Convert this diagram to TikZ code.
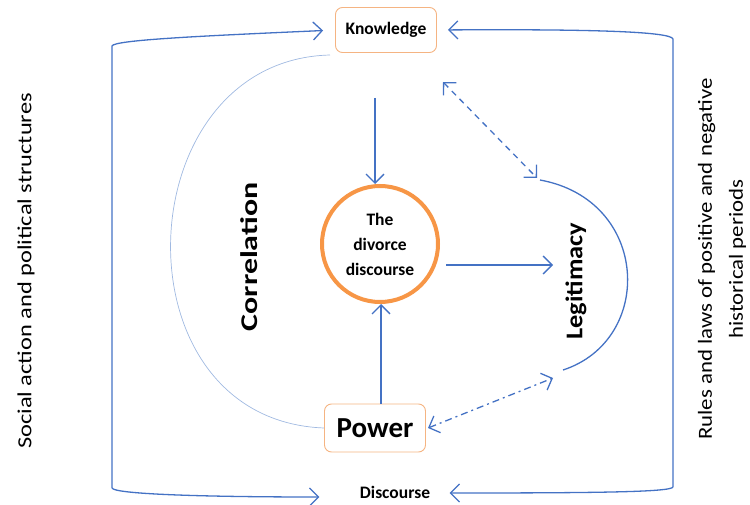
\documentclass[tikz,border=0pt]{standalone}
\usepackage{fontspec}
\setmainfont{Carlito}
\usetikzlibrary{arrows.meta,calc}
\definecolor{lineblue}{RGB}{68,114,196}
\definecolor{lightblue}{RGB}{160,185,225}
\definecolor{circorange}{RGB}{247,150,70}
\definecolor{boxorange}{RGB}{245,180,130}
\tikzset{
  boxnode/.style={draw=boxorange, line width=0.9pt, rounded corners=7pt, font=\bfseries, align=center},
  conn/.style={draw=lineblue, line width=1.3pt, -{Straight Barb[length=9pt,width=18pt,line width=1.3pt]}},
  dconn/.style={draw=lineblue, line width=1.3pt, {Straight Barb[length=9pt,width=18pt,line width=1.3pt]}-{Straight Barb[length=9pt,width=18pt,line width=1.3pt]}},
  arcline/.style={draw=lineblue, line width=1.3pt},
  thinarc/.style={draw=lightblue, line width=0.7pt},
  sidetext/.style={font=\fontsize{20}{31}\selectfont, rotate=90, align=center},
  bigtext/.style={font=\fontsize{24}{28}\selectfont\bfseries, rotate=90}
}
\begin{document}
\begin{tikzpicture}[x=1pt,y=-1pt]
\useasboundingbox (0,0) rectangle (750,505);
% nodes
\node[boxnode, minimum width=101pt, minimum height=45pt, font=\fontsize{17.5}{20}\selectfont\bfseries] (know) at (386,30) {Knowledge};
\node[boxnode, minimum width=101pt, minimum height=48pt, font=\fontsize{29}{32}\selectfont\bfseries] (power) at (375,428) {Power};
\node[font=\fontsize{17.5}{20}\selectfont\bfseries] (disc) at (395,492) {Discourse};
\node[circle, draw=circorange, line width=4pt, minimum size=116pt, inner sep=0pt, align=center, font=\fontsize{17.5}{25}\selectfont\bfseries] (circ) at (380,244) {The\\divorce\\discourse};
\node[bigtext] (corr) at (249,257) {\scalebox{1.33}[1]{Correlation}};
\node[bigtext] (legit) at (576,281) {\scalebox{1.1}[1]{Legitimacy}};
\node[sidetext] (left) at (26,271) {\scalebox{1.22}[1]{Social action and political structures}};
\node[sidetext] (right) at (722,259) {\scalebox{1.14}[1]{Rules and laws of positive and negative}\\\scalebox{1.14}[1]{historical periods}};
% coordinates
\coordinate (kdown) at (375,98);
\coordinate (cright) at (553,265);
\coordinate (legA) at (540,180);
\coordinate (legB) at (563,370);
\coordinate (dashA) at (443,82);
\coordinate (dashB) at (537,178);
\coordinate (ddA) at (428,428);
\coordinate (ddB) at (553,378);
\coordinate (lt) at (112,46);
\coordinate (lb) at (112,488);
\coordinate (rt) at (673,39);
\coordinate (rb) at (673,487);
% central arrows
\draw[conn] (kdown) -- (circ.north -| kdown);
\draw[conn] (power.north -| 381,0) -- (circ.south -| 381,0);
\draw[conn] (circ.east |- cright) ++(6,0) -- (cright);
% legitimacy arc
\draw[arcline] (legA) .. controls (650,200) and (655,340) .. (legB);
% correlation arc
\draw[thinarc] (330,55) .. controls (125,60) and (112,420) .. (power.west);
% dashed double arrows
\draw[dconn, dash pattern=on 6pt off 5pt] (dashA) -- (dashB);
\draw[dconn, dash pattern=on 7pt off 4pt on 2pt off 4pt] (ddA) -- (ddB);
% side brackets
\draw[conn, shorten >=12pt] (lb) -- (lt) .. controls (114,40) and (200,36) .. (know.west);
\draw[conn] (lt |- lb) .. controls (114,494) and (200,497) .. ($(disc.west)+(-37,5)$);
\draw[conn, shorten >=11pt] (rb) -- (rt) .. controls (671,32) and (600,29) .. (know.east);
\draw[conn] (rt |- rb) .. controls (671,492) and (600,493) .. ($(disc.east)+(16,1)$);
\end{tikzpicture}
\end{document}
